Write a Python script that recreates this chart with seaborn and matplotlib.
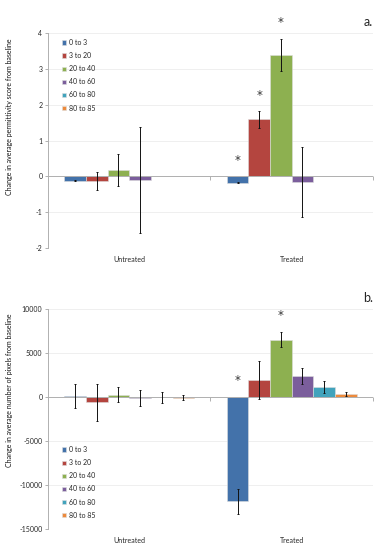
import numpy as np
import pandas as pd
import matplotlib
matplotlib.use("Agg")
import matplotlib.pyplot as plt
import seaborn as sns

# --- data ---
groups = ["Untreated", "Treated"]
bins = ["0 to 3", "3 to 20", "20 to 40", "40 to 60", "60 to 80", "80 to 85"]
colors = ["#4372AA", "#B4453F", "#8DB050", "#7B5E9C", "#41A3BC", "#EC8A3C"]

# panel a: permittivity score (rows = group, cols = bin)
perm_untreated = [-0.12, -0.13, 0.18, -0.09, 0.0, 0.0]
perm_untreated_err = [0.01, 0.24, 0.44, 1.48, 0.0, 0.0]
perm_treated = [-0.18, 1.59, 3.39, -0.15, 0.0, 0.0]
perm_treated_err = [0.01, 0.23, 0.44, 0.98, 0.0, 0.0]
perm_stars = [("Treated", "0 to 3"), ("Treated", "3 to 20"), ("Treated", "20 to 40")]

# panel b: number of pixels
pix_untreated = [120, -600, 250, -110, -40, -50]
pix_untreated_err = [1380, 2100, 850, 900, 640, 250]
pix_treated = [-11850, 1950, 6530, 2350, 1130, 370]
pix_treated_err = [1420, 2120, 870, 910, 700, 250]
pix_stars = [("Treated", "0 to 3"), ("Treated", "20 to 40")]


def to_frame(untreated, untreated_err, treated, treated_err):
    rows = []
    for g, vals, errs in [("Untreated", untreated, untreated_err), ("Treated", treated, treated_err)]:
        for b, v, e in zip(bins, vals, errs):
            rows.append({"group": g, "bin": b, "value": v, "err": e})
    return pd.DataFrame(rows)


sns.set_theme(style="white")
plt.rcParams["font.family"] = ["Lato", "DejaVu Sans"]

GRID = "#ececec"
AXIS = "#b0b0b0"
TXT = "#262626"


def draw_panel(ax, df, ylim, yticks, ylabel, stars, tag, legend_anchor, label_y):
    sns.barplot(data=df, x="group", y="value", hue="bin", order=groups, hue_order=bins,
                palette=colors, errorbar=None, width=0.8, ax=ax,
                edgecolor="#dddddd", linewidth=0.4, saturation=1)

    # custom error bars from the bar positions the library produced
    for b, cont in zip(bins, ax.containers):
        sub = df[df["bin"] == b].set_index("group").loc[groups]
        xs = [p.get_x() + p.get_width() / 2 for p in cont.patches]
        keep = sub["err"].values > 0
        ax.errorbar(np.array(xs)[keep], sub["value"].values[keep], yerr=sub["err"].values[keep],
                    fmt="none", ecolor="#111111", elinewidth=0.7, capsize=1.0, capthick=0.7, zorder=5)
        for x, g in zip(xs, groups):
            if (g, b) in stars:
                row = sub.loc[g]
                top = max(0, row["value"] + row["err"])
                ax.text(x, top + 0.075 * (ylim[1] - ylim[0]), "*", ha="center", va="center",
                        fontsize=8.5, color="#333333", family="DejaVu Sans")

    ax.set_ylim(*ylim)
    ax.set_yticks(yticks)
    ax.set_yticklabels([str(t) for t in yticks])
    ax.set_xlim(-0.5, len(groups) - 0.5)
    ax.yaxis.grid(True, color=GRID, linewidth=0.6)
    ax.set_axisbelow(True)
    for s in ["top", "right", "bottom"]:
        ax.spines[s].set_visible(False)
    ax.spines["left"].set_color(AXIS)
    ax.spines["left"].set_linewidth(0.7)

    # category axis crossing at zero with boundary tick marks
    ax.axhline(0, color=AXIS, linewidth=0.7, zorder=1)
    bounds = np.arange(len(groups) + 1) - 0.5
    ax.plot(bounds, np.zeros_like(bounds), marker=3, linestyle="none",
            markersize=3, color=AXIS, markeredgewidth=0.7, clip_on=False)

    ax.tick_params(axis="y", which="both", left=True, length=2.5, width=0.7, color=AXIS,
                   labelsize=5, labelcolor=TXT, pad=1.5)
    ax.tick_params(axis="x", length=0, labelsize=5, labelcolor=TXT, pad=6)
    ax.set_xlabel("")
    ax.set_ylabel(ylabel, fontsize=5, color="#111111")
    ax.yaxis.set_label_coords(-0.108, label_y)

    ax.legend(loc="upper left", bbox_to_anchor=legend_anchor, frameon=False, fontsize=5,
              handlelength=0.6, handleheight=0.6, handletextpad=0.4, labelspacing=0.88,
              borderaxespad=0)
    ax.text(1.0, 1.05, tag, transform=ax.transAxes, fontsize=9, color=TXT, ha="right", va="center")


fig = plt.figure(figsize=(3.84, 5.5), dpi=100)
ax_a = fig.add_axes([0.125, 0.549, 0.846, 0.391])
ax_b = fig.add_axes([0.125, 0.038, 0.846, 0.400])

df_a = to_frame(perm_untreated, perm_untreated_err, perm_treated, perm_treated_err)
df_b = to_frame(pix_untreated, pix_untreated_err, pix_treated, pix_treated_err)

draw_panel(ax_a, df_a, (-2, 4), [-2, -1, 0, 1, 2, 3, 4],
           "Change in average permittivity score from baseline",
           perm_stars, "a.", (0.035, 0.985), 0.61)
draw_panel(ax_b, df_b, (-15000, 10000), [-15000, -10000, -5000, 0, 5000, 10000],
           "Change in average number of pixels from baseline",
           pix_stars, "b.", (0.035, 0.39), 0.63)

fig.savefig("out.png", dpi=100)
